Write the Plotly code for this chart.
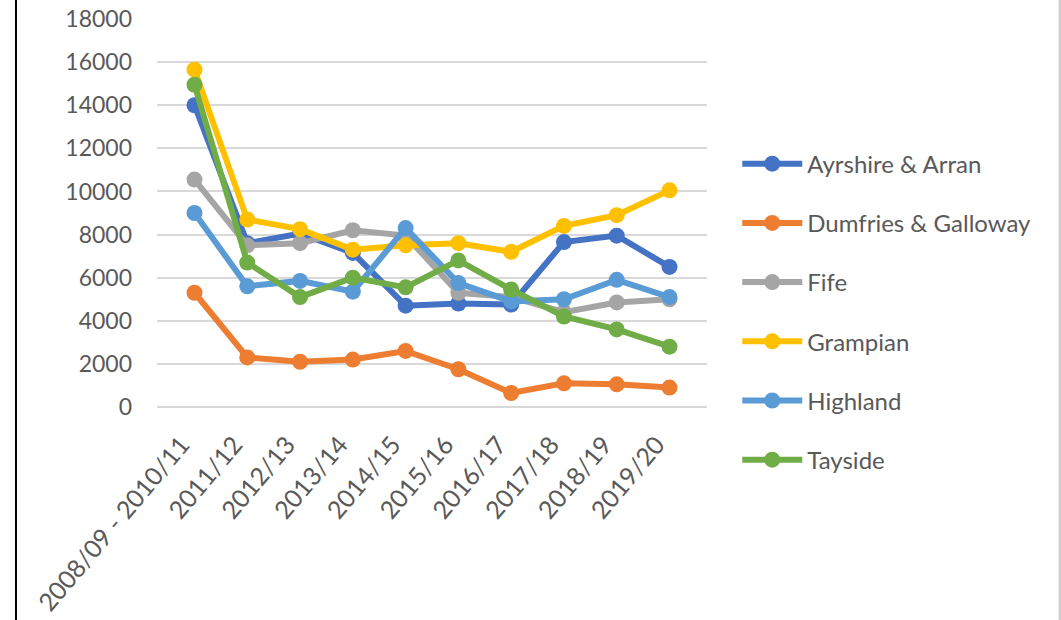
import plotly.graph_objects as go

categories = ["2008/09 - 2010/11", "2011/12", "2012/13", "2013/14", "2014/15",
              "2015/16", "2016/17", "2017/18", "2018/19", "2019/20"]

ayrshire = [14000, 7600, 8050, 7150, 4700, 4800, 4750, 7650, 7950, 6500]
dumfries = [5300, 2300, 2100, 2200, 2600, 1750, 650, 1100, 1050, 900]
fife = [10550, 7500, 7600, 8200, 7950, 5300, 5100, 4400, 4850, 5000]
grampian = [15650, 8700, 8250, 7300, 7500, 7600, 7200, 8400, 8900, 10050]
highland = [9000, 5600, 5850, 5350, 8300, 5750, 4900, 5000, 5900, 5100]
tayside = [14950, 6700, 5100, 6000, 5550, 6800, 5450, 4200, 3600, 2800]

series = [
    ("Ayrshire & Arran", ayrshire, "#4472C4"),
    ("Dumfries & Galloway", dumfries, "#ED7D31"),
    ("Fife", fife, "#A5A5A5"),
    ("Grampian", grampian, "#FFC000"),
    ("Highland", highland, "#5B9BD5"),
    ("Tayside", tayside, "#70AD47"),
]

y_ticks = list(range(0, 18001, 2000))
y_labels = [str(v) for v in y_ticks]

fig = go.Figure()
for i, (name, vals, color) in enumerate(series):
    fig.add_trace(go.Scatter(
        x=categories, y=vals, name=name, mode="lines+markers",
        line=dict(color=color, width=6),
        marker=dict(color=color, size=16),
        legendgroup=f"g{i}",
        cliponaxis=False,
    ))

font_family = "Lato, 'Open Sans', sans-serif"

fig.update_layout(
    width=1061, height=620,
    margin=dict(l=157, r=354, t=19, b=213, autoexpand=False),
    paper_bgcolor="white", plot_bgcolor="white",
    font=dict(family=font_family, size=23, color="#595959"),
    showlegend=True,
    legend=dict(
        x=1.055, y=0.684, xanchor="left", yanchor="top",
        font=dict(size=24, color="#595959"),
        tracegroupgap=25, itemwidth=60,
        bgcolor="rgba(0,0,0,0)",
    ),
    xaxis=dict(
        type="category", tickangle=-50, showgrid=False, showline=False,
        ticks="", tickfont=dict(size=25, color="#595959"),
        ticklabelshift=-13, ticklabelstandoff=17, automargin=False,
    ),
    yaxis=dict(
        range=[0, 18000], tickvals=y_ticks, ticktext=y_labels, showgrid=True,
        gridcolor="#D9D9D9", gridwidth=2, zeroline=True,
        zerolinecolor="#D9D9D9", zerolinewidth=2, showline=False,
        ticks="", tickfont=dict(size=23, color="#595959"),
        ticklabelstandoff=24, automargin=False,
    ),
    shapes=[
        dict(type="line", xref="paper", yref="paper",
             x0=-0.2564, x1=-0.2564, y0=-0.56, y1=1.06,
             line=dict(color="black", width=2)),
        dict(type="line", xref="paper", yref="paper",
             x0=1.642, x1=1.642, y0=-0.56, y1=1.06,
             line=dict(color="#D0D0D0", width=3)),
    ],
)

fig.write_html("out.html")
